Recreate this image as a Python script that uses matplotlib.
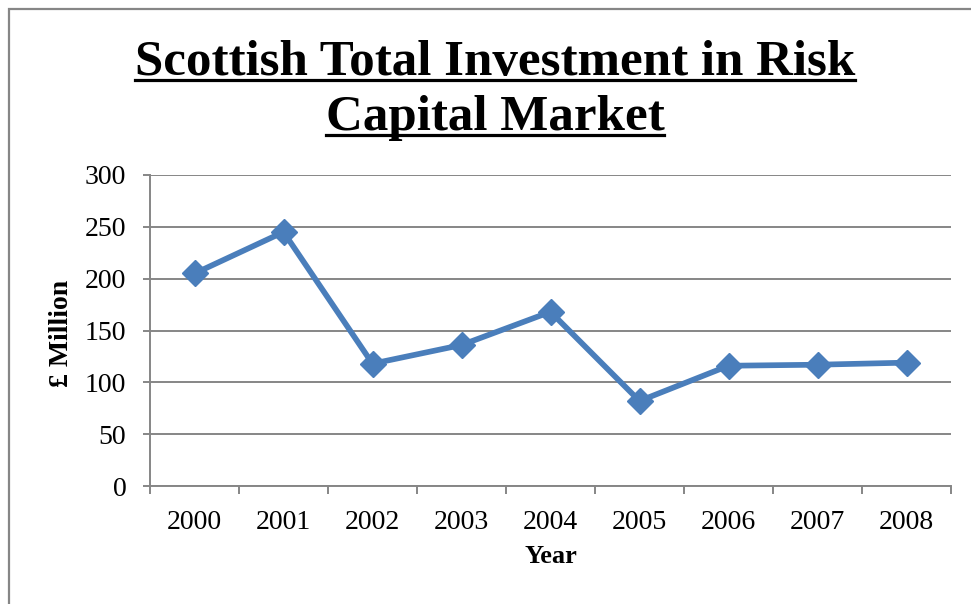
import matplotlib
matplotlib.use("Agg")
import matplotlib.pyplot as plt
from matplotlib.lines import Line2D
from matplotlib.patches import Rectangle
import numpy as np

years = ["2000", "2001", "2002", "2003", "2004", "2005", "2006", "2007", "2008"]
investment = [205, 245, 118, 136, 168, 82, 116, 117, 119]
y_ticks = [0, 50, 100, 150, 200, 250, 300]

title_lines = ["Scottish Total Investment in Risk", "Capital Market"]

W, H = 971, 604
GRAY = "#868686"
BLUE = "#4a7ebb"
SERIF = "Liberation Serif"

plt.rcParams["font.family"] = [SERIF, "DejaVu Serif"]

fig = plt.figure(figsize=(W / 100, H / 100), dpi=100)

# chart frame (runs off the right and bottom edges)
fig.patches.append(Rectangle((9 / W, -0.05), 1.1, (H - 9) / H + 0.05,
                             transform=fig.transFigure, fill=False,
                             edgecolor=GRAY, lw=1.6, zorder=0))

ax = fig.add_axes([150 / W, (H - 486) / H, (951 - 150) / W, (486 - 175) / H])
x = np.arange(len(years))
ax.plot(x, investment, color=BLUE, lw=4.1, marker="D", ms=13,
        markerfacecolor=BLUE, markeredgecolor=BLUE, solid_joinstyle="miter",
        zorder=3, clip_on=False)

ax.set_xlim(-0.5, len(years) - 0.5)
ax.set_ylim(0, 300)
ax.set_yticks(y_ticks)
ax.set_yticklabels([str(v) for v in y_ticks])
ax.yaxis.grid(True, color=GRAY, lw=1.4)
ax.set_axisbelow(True)

# category boundaries get tick marks, labels sit at the centres
ax.set_xticks(np.arange(-0.5, len(years)))
ax.set_xticklabels([])
ax.set_xticks(x, minor=True)
ax.set_xticklabels(years, minor=True)
ax.tick_params(axis="x", which="major", length=6, width=1.4, color=GRAY, direction="out")
ax.tick_params(axis="x", which="minor", length=0, pad=17, labelsize=20)
ax.tick_params(axis="y", length=5, width=1.4, color=GRAY, pad=12, labelsize=20)

for side in ["top", "right"]:
    ax.spines[side].set_visible(False)
for side in ["left", "bottom"]:
    ax.spines[side].set_color(GRAY)
    ax.spines[side].set_linewidth(1.4)

fig.text(551 / W, 1 - 563 / H, "Year", ha="center", va="baseline",
         fontsize=19, fontweight="bold")
fig.text(61 / W, 1 - 333 / H, "£ Million", ha="center", va="center",
         rotation=90, fontsize=20, fontweight="bold")

# two-line underlined title, first line sized to 720 px wide
renderer = fig.canvas.get_renderer()
probe = fig.text(0, 0, title_lines[0], fontsize=36, fontweight="bold")
w = probe.get_window_extent(renderer).width
probe.remove()
title_size = 36 * 720 / w

for line, base in zip(title_lines, [75, 130]):
    t = fig.text(495 / W, 1 - base / H, line, ha="center", va="baseline",
                 fontsize=title_size, fontweight="bold")
    bb = t.get_window_extent(renderer)
    uy = 1 - (base + 4.5) / H
    fig.lines.append(Line2D([bb.x0 / W, bb.x1 / W], [uy, uy],
                            transform=fig.transFigure, color="black", lw=2.3))

fig.savefig("out.png", dpi=100)
